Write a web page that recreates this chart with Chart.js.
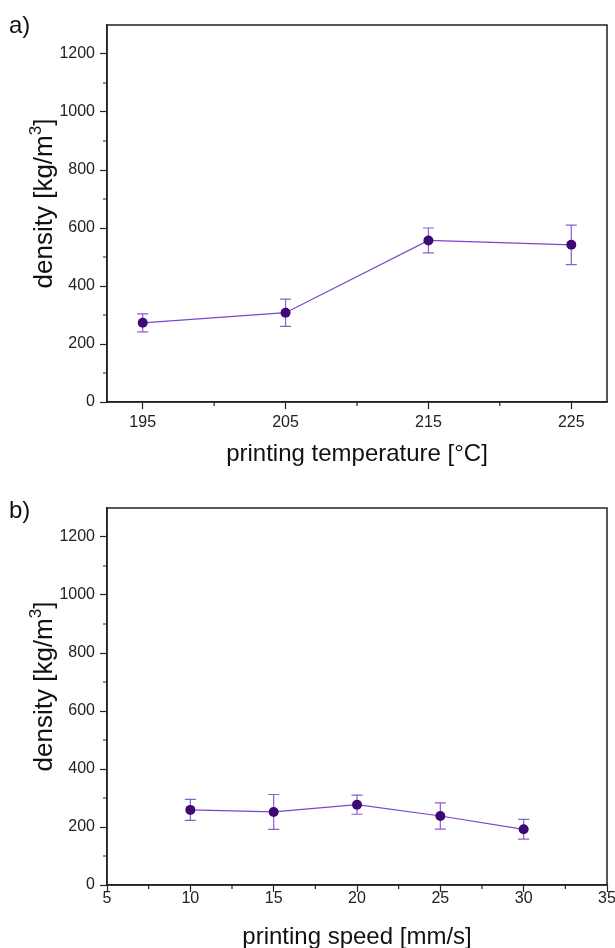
<!DOCTYPE html>
<html>
<head>
<meta charset="utf-8">
<script src="https://cdn.jsdelivr.net/npm/chart.js@4.4.0/dist/chart.umd.min.js"></script>
<style>
  html, body { margin: 0; padding: 0; background: #fff; overflow: hidden; }
  #wrap { position: relative; width: 615px; height: 948px; }
  canvas { position: absolute; left: 0; }
  #chartA { top: 0; }
  #chartB { top: 474px; }
</style>
</head>
<body>
<div id="wrap">
  <canvas id="chartA" width="615" height="474"></canvas>
  <canvas id="chartB" width="615" height="490"></canvas>
</div>
<script>
// a) density vs printing temperature
const tempValues = [195, 205, 215, 225];
const tempDensity = [273, 308, 557, 542];
const tempError = [31, 47, 43, 68];
const tempTicks = [195, 205, 215, 225];
const tempMinor = [200, 210, 220];

// b) density vs printing speed
const speedValues = [10, 15, 20, 25, 30];
const speedDensity = [259, 252, 277, 238, 192];
const speedError = [36, 60, 33, 45, 34];
const speedTicks = [5, 10, 15, 20, 25, 30, 35];
const speedMinor = [7.5, 12.5, 17.5, 22.5, 27.5, 32.5];

const densityTicks = [0, 200, 400, 600, 800, 1000, 1200];
const densityMinor = [100, 300, 500, 700, 900, 1100];

const FONT = "'Liberation Sans', Arial, sans-serif";
const AXIS = '#222';
const MARKER = '#3d0a75';
const LINE = '#7b47cc';
const ERR = '#8a5fd0';

// vertical error bars with caps, under the markers
const errorBars = {
    id: 'errorBars',
    beforeDatasetsDraw(chart, args, opts) {
        const ctx = chart.ctx;
        const x = chart.scales.x;
        const y = chart.scales.y;
        ctx.save();
        ctx.strokeStyle = opts.color;
        ctx.lineWidth = 1.2;
        for (let i = 0; i < opts.xs.length; i++) {
            const px = x.getPixelForValue(opts.xs[i]);
            const top = y.getPixelForValue(opts.ys[i] + opts.err[i]);
            const bot = y.getPixelForValue(opts.ys[i] - opts.err[i]);
            ctx.beginPath();
            ctx.moveTo(px, top);
            ctx.lineTo(px, bot);
            ctx.moveTo(px - 5.5, top);
            ctx.lineTo(px + 5.5, top);
            ctx.moveTo(px - 5.5, bot);
            ctx.lineTo(px + 5.5, bot);
            ctx.stroke();
        }
        ctx.restore();
    }
};

// y title with a real superscript, drawn rotated
function drawDensityTitle(ctx, cx, cy) {
    const big = '26px ' + FONT;
    const small = '17px ' + FONT;
    const parts = [
        { t: 'density [kg/m', f: big, dy: 0 },
        { t: '3', f: small, dy: -11 },
        { t: ']', f: big, dy: 0 }
    ];
    let total = 0;
    for (const p of parts) {
        ctx.font = p.f;
        p.w = ctx.measureText(p.t).width;
        total += p.w;
    }
    ctx.save();
    ctx.translate(cx, cy);
    ctx.rotate(-Math.PI / 2);
    ctx.fillStyle = '#111';
    ctx.textAlign = 'left';
    ctx.textBaseline = 'alphabetic';
    let pos = -total / 2;
    for (const p of parts) {
        ctx.font = p.f;
        ctx.fillText(p.t, pos, p.dy);
        pos += p.w;
    }
    ctx.restore();
}

// closed box, minor ticks, y title and the panel letter
const frame = {
    id: 'frame',
    afterDraw(chart, args, opts) {
        const ctx = chart.ctx;
        const area = chart.chartArea;
        const x = chart.scales.x;
        const y = chart.scales.y;
        ctx.save();
        ctx.strokeStyle = AXIS;
        ctx.lineWidth = 1.5;
        ctx.strokeRect(area.left, area.top, area.right - area.left, area.bottom - area.top);

        ctx.lineWidth = 1.2;
        ctx.beginPath();
        for (const v of opts.minorX) {
            const px = x.getPixelForValue(v);
            ctx.moveTo(px, area.bottom);
            ctx.lineTo(px, area.bottom + 4);
        }
        for (const v of opts.minorY) {
            const py = y.getPixelForValue(v);
            ctx.moveTo(area.left, py);
            ctx.lineTo(area.left - 4, py);
        }
        ctx.stroke();

        ctx.fillStyle = '#111';
        ctx.font = '24px ' + FONT;
        ctx.textAlign = 'left';
        ctx.textBaseline = 'middle';
        ctx.fillText(opts.label, 9, opts.labelY);
        ctx.restore();

        drawDensityTitle(ctx, 52, (area.top + area.bottom) / 2 - 10);
    }
};

function makeChart(id, cfg) {
    const ctx = document.querySelector(id).getContext('2d');
    const canvasH = document.querySelector(id).height;
    return new Chart(ctx, {
        type: 'scatter',
        data: {
            datasets: [{
                data: cfg.xs.map((v, i) => ({ x: v, y: cfg.ys[i] })),
                showLine: true,
                borderColor: LINE,
                borderWidth: 1.2,
                pointRadius: 5,
                pointBackgroundColor: MARKER,
                pointBorderColor: MARKER,
                pointBorderWidth: 0
            }]
        },
        options: {
            responsive: false,
            animation: false,
            layout: {
                padding: { left: 0, top: cfg.top, right: 8, bottom: 0 }
            },
            plugins: {
                legend: { display: false },
                tooltip: { enabled: false },
                errorBars: { xs: cfg.xs, ys: cfg.ys, err: cfg.err, color: ERR },
                frame: { minorX: cfg.minorX, minorY: densityMinor, label: cfg.label, labelY: cfg.labelY }
            },
            scales: {
                x: {
                    type: 'linear',
                    min: cfg.xMin,
                    max: cfg.xMax,
                    afterBuildTicks: (scale) => {
                        scale.ticks = cfg.xTicks.map(v => ({ value: v }));
                    },
                    afterFit: (scale) => {
                        scale.height = canvasH - cfg.bottom;
                        scale.paddingLeft = 0;
                        scale.paddingRight = 0;
                    },
                    grid: {
                        drawOnChartArea: false,
                        drawTicks: true,
                        tickLength: 7,
                        tickColor: AXIS,
                        tickWidth: 1.2
                    },
                    border: { display: true, color: AXIS, width: 1.5 },
                    ticks: {
                        padding: cfg.xLabelPad,
                        color: '#222',
                        font: { family: FONT, size: 16 },
                        maxRotation: 0,
                        callback: (v) => String(v)
                    },
                    title: {
                        display: true,
                        text: cfg.xTitle,
                        color: '#111',
                        font: { family: FONT, size: 24 },
                        padding: { top: 0, bottom: cfg.xTitlePad }
                    }
                },
                y: {
                    type: 'linear',
                    min: 0,
                    max: 1300,
                    afterBuildTicks: (scale) => {
                        scale.ticks = densityTicks.map(v => ({ value: v }));
                    },
                    afterFit: (scale) => {
                        scale.width = 107;
                    },
                    grid: {
                        drawOnChartArea: false,
                        drawTicks: true,
                        tickLength: 7,
                        tickColor: AXIS,
                        tickWidth: 1.2
                    },
                    border: { display: true, color: AXIS, width: 1.5 },
                    ticks: {
                        padding: 5,
                        color: '#222',
                        font: { family: FONT, size: 16 },
                        callback: (v) => String(v)
                    },
                    title: { display: false }
                }
            }
        },
        plugins: [errorBars, frame]
    });
}

makeChart('#chartA', {
    xs: tempValues, ys: tempDensity, err: tempError,
    xMin: 192.5, xMax: 227.5, xTicks: tempTicks, minorX: tempMinor,
    xTitle: 'printing temperature [°C]',
    top: 25, bottom: 402, xLabelPad: 4, xTitlePad: 5.6,
    label: 'a)', labelY: 26
});

makeChart('#chartB', {
    xs: speedValues, ys: speedDensity, err: speedError,
    xMin: 5, xMax: 35, xTicks: speedTicks, minorX: speedMinor,
    xTitle: 'printing speed [mm/s]',
    top: 34, bottom: 411, xLabelPad: -3.5, xTitlePad: 12.6,
    label: 'b)', labelY: 37
});
</script>
</body>
</html>
